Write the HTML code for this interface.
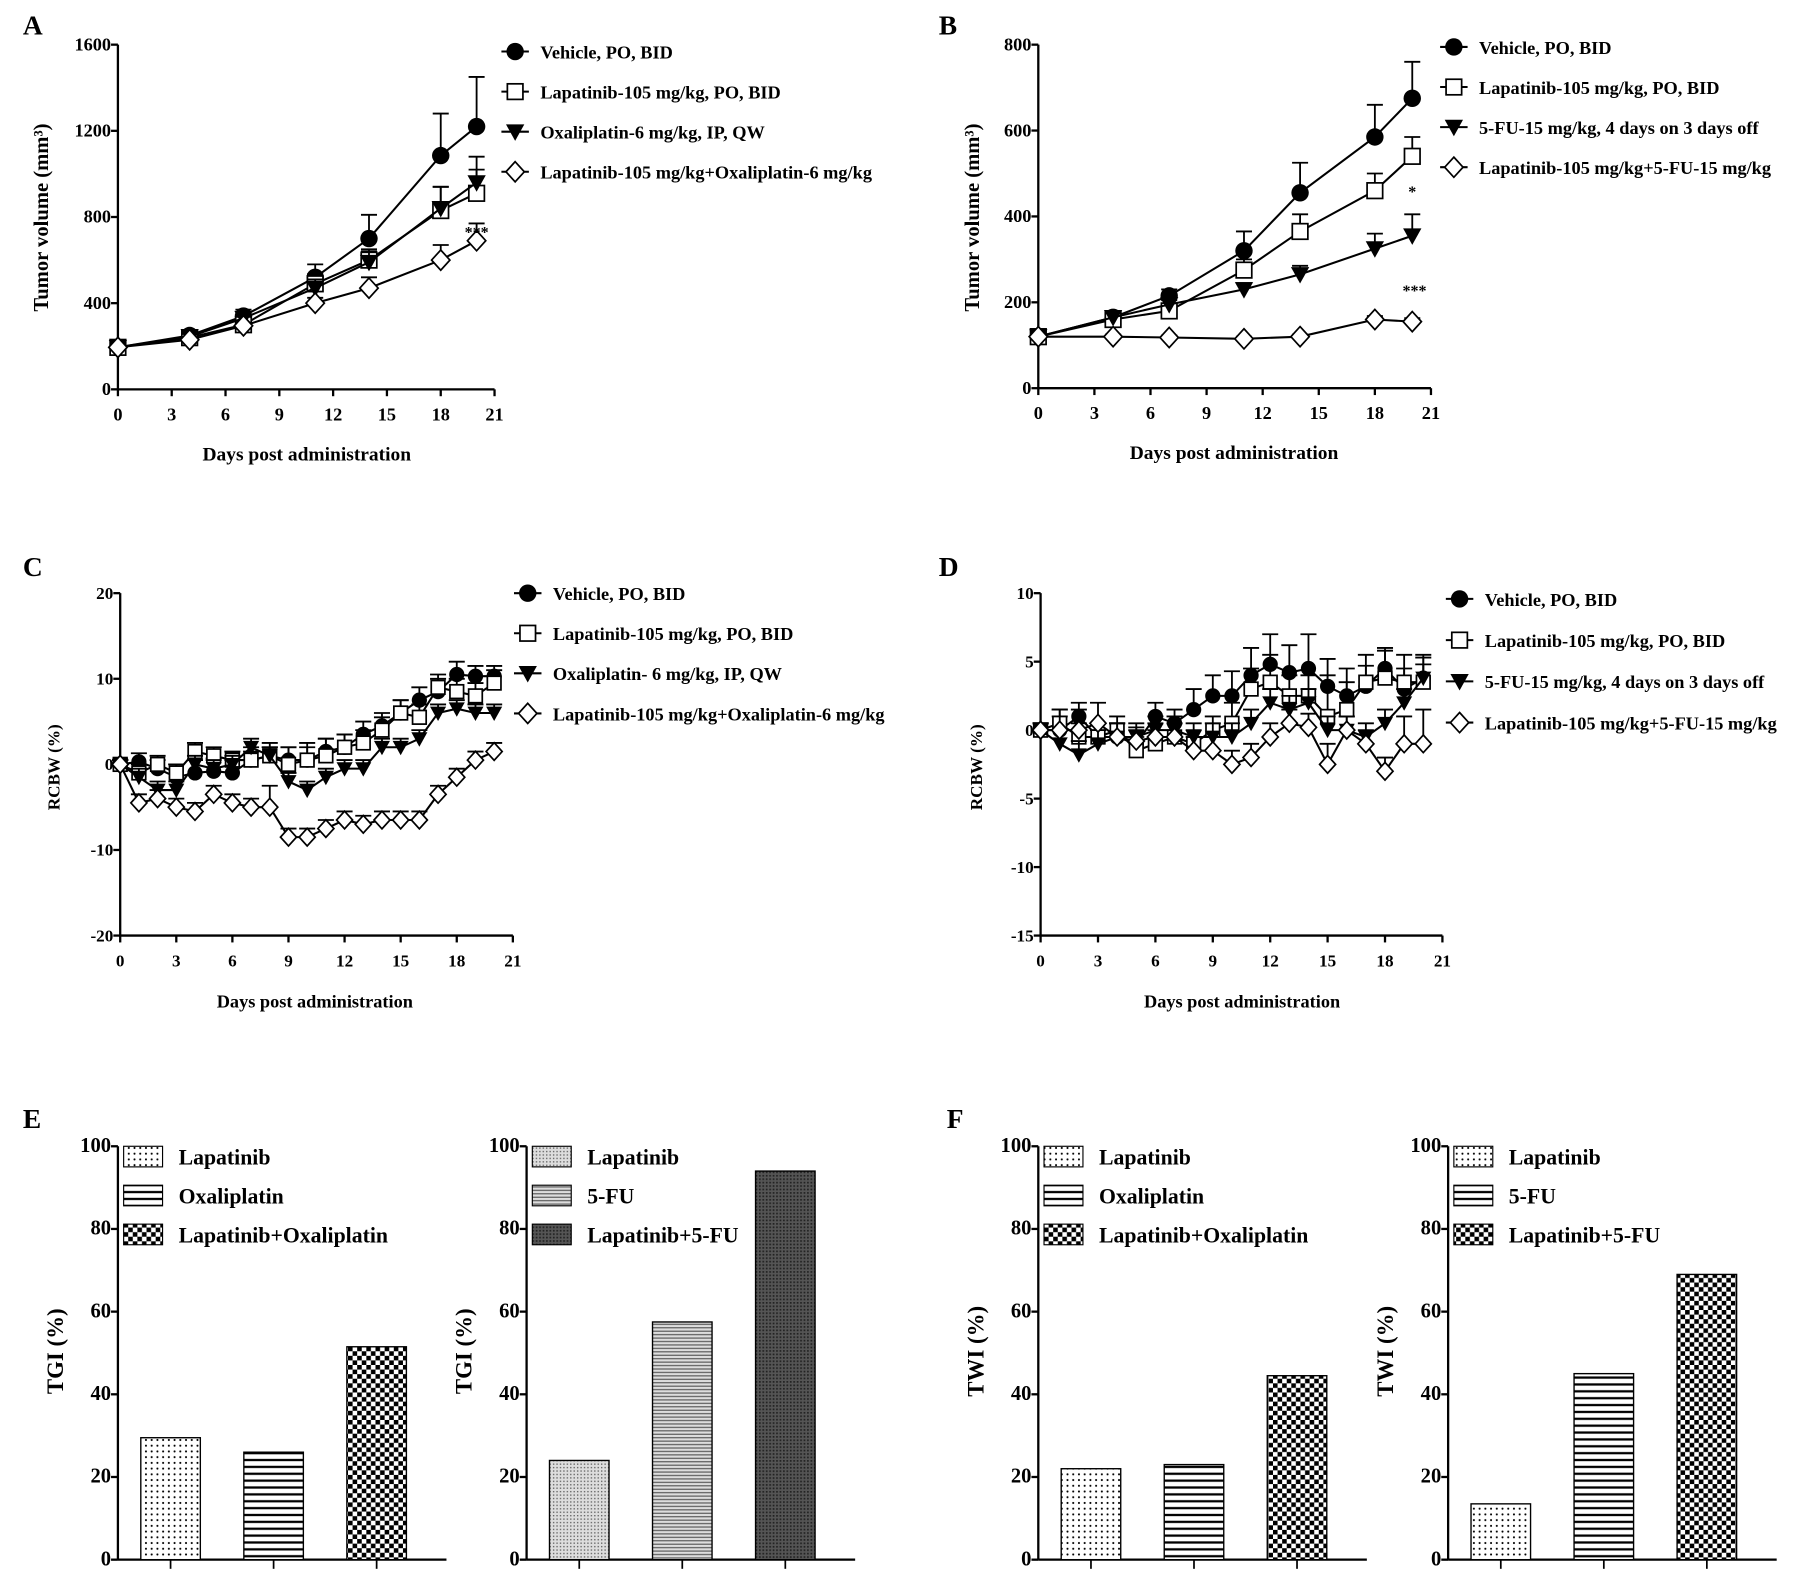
<!DOCTYPE html>
<html><head><meta charset="utf-8"><style>
html,body{margin:0;padding:0;background:#fff}
svg{display:block}
text{font-family:"Liberation Serif",serif;font-weight:bold;fill:#000}
</style></head><body>
<svg id="fig" width="1795" height="1586" viewBox="0 0 1568 1385" preserveAspectRatio="none" xmlns="http://www.w3.org/2000/svg">
<defs>
<pattern id="pDots" width="5" height="5" patternUnits="userSpaceOnUse"><rect width="5" height="5" fill="#fff"/><circle cx="2.5" cy="2.5" r="0.9" fill="#000"/></pattern>
<pattern id="pFineDots" width="3" height="3" patternUnits="userSpaceOnUse"><rect width="3" height="3" fill="#ddd"/><rect width="1.2" height="1.2" fill="#666"/></pattern>
<pattern id="pHLines" width="6" height="6" patternUnits="userSpaceOnUse"><rect width="6" height="6" fill="#fff"/><rect y="2" width="6" height="2" fill="#000"/></pattern>
<pattern id="pFineH" width="4" height="3" patternUnits="userSpaceOnUse"><rect width="4" height="3" fill="#ddd"/><rect y="1" width="4" height="1" fill="#555"/></pattern>
<pattern id="pCheck" width="8" height="8" patternUnits="userSpaceOnUse"><rect width="8" height="8" fill="#fff"/><rect width="4" height="4" fill="#000"/><rect x="4" y="4" width="4" height="4" fill="#000"/></pattern>
<pattern id="pDark" width="3" height="3" patternUnits="userSpaceOnUse"><rect width="3" height="3" fill="#555"/><rect width="1.5" height="1.5" fill="#222"/></pattern>
</defs>
</svg>
<script>
// ---- Panel A data ----
const daysA = [0,4,7,11,14,18,20];
const aVehicle = [195,250,340,520,700,1085,1220];
const aVehicleErr = [10,15,30,60,110,195,230];
const aLap = [195,240,300,490,600,830,910];
const aLapErr = [10,12,20,45,50,110,110];
const aOxa = [195,245,330,470,590,840,960];
const aOxaErr = [10,12,25,40,50,100,120];
const aCombo = [195,230,295,400,470,600,690];
const aComboErr = [8,10,15,25,50,70,80];
const ticksA = [0,400,800,1200,1600];
// ---- Panel B data ----
const daysB = [0,4,7,11,14,18,20];
const bVehicle = [120,165,215,320,455,585,675];
const bVehicleErr = [8,10,15,45,70,75,85];
const bLap = [120,160,180,275,365,460,540];
const bLapErr = [8,8,12,25,40,40,45];
const bFU = [120,165,195,230,265,325,355];
const bFUErr = [8,10,10,15,20,35,50];
const bCombo = [120,120,118,115,120,160,155];
const bComboErr = [5,5,5,5,5,8,8];
const ticksB = [0,200,400,600,800];
// ---- Panel C data ----
const daysCD = [0,1,2,3,4,5,6,7,8,9,10,11,12,13,14,15,16,17,18,19,20];
const cVehicle = [0,0.3,-0.5,-1.5,-1,-0.8,-1,0.5,1,0.5,0.5,1.5,2,3.5,4.5,6,7.5,8.5,10.5,10.3,10.3];
const cVehicleErr = [0.5,1,1,1.5,1.5,1.5,1.5,1.5,1.5,1.5,1.5,1.5,1.5,1.5,1.5,1.5,1.5,1.5,1.5,1.2,1.2];
const cLap = [0,-1,0,-1,1.5,1,0.5,0.5,1,0,0.5,1,2,2.5,4,6,5.5,9,8.5,8,9.5];
const cLapErr = [0.5,1,1,1,1,1,1,1,1,2,2,2,1.5,1.5,1.5,1.5,1.5,1.5,1.5,1.5,1.5];
const cOxa = [0,-1.5,-3,-3,0,-0.5,0,2,1,-2,-3,-1.5,-0.5,-0.5,2,2,3,6,6.5,6,6];
const cOxaErr = [0.5,1,1,1,1,1,1,1,1,1,1,1,1,1,1,1,1,1,1,1,1];
const cCombo = [0,-4.5,-4,-5,-5.5,-3.5,-4.5,-5,-5,-8.5,-8.5,-7.5,-6.5,-7,-6.5,-6.5,-6.5,-3.5,-1.5,0.5,1.5];
const cComboErr = [0.5,1,1,1,1,1,1,1,2.5,1,1,1,1,1,1,1,1,1,1,1,1];
const ticksC = [-20,-10,0,10,20];
// ---- Panel D data ----
const dVehicle = [0,0,1,-0.5,-0.5,-1,1,0.5,1.5,2.5,2.5,4,4.8,4.2,4.5,3.2,2.5,3.2,4.5,3,3.8];
const dVehicleErr = [0.5,1,1,1,1,1,1,1,1.5,1.5,1.8,2,2.2,2,2.5,2,2,1.5,1.5,1.5,1.5];
const dLap = [0,0.5,-0.5,-0.5,0,-1.5,-1,-0.5,-1,0,0.5,3,3.5,2.5,2.5,1,1.5,3.5,3.8,3.5,3.5];
const dLapErr = [0.5,1,1,1,1,1,1,1,1,1,1.5,1.5,2,1.5,1.5,3,2,2,2,2,2];
const dFU = [0,-1,-1.8,-1,-0.5,-0.5,0,0,-0.5,-0.5,-0.5,0.5,2,1.5,2,0,0,-0.5,0.5,2,3.8];
const dFUErr = [0.5,1,1,1,1,1,1,1,1,1,1,1,1,1,1,1,1,1,1,1,1];
const dCombo = [0,0,0,0.5,-0.5,-0.8,-0.5,-0.5,-1.5,-1.5,-2.5,-2,-0.5,0.5,0.2,-2.5,0,-1,-3,-1,-1];
const dComboErr = [0.5,1.5,1.5,1.5,1,1,1,1,1,1,1,1,1,1,1,1.5,1,1,1,2,2.5];
const ticksD = [-15,-10,-5,0,5,10];
const ticksDays = [0,3,6,9,12,15,18,21];
// ---- Bar data ----
const e1Labels = ["Lapatinib","Oxaliplatin","Lapatinib+Oxaliplatin"];
const e1Values = [29.5,26,51.5];
const e2Labels = ["Lapatinib","5-FU","Lapatinib+5-FU"];
const e2Values = [24,57.5,94];
const f1Labels = ["Lapatinib","Oxaliplatin","Lapatinib+Oxaliplatin"];
const f1Values = [22,23,44.5];
const f2Labels = ["Lapatinib","5-FU","Lapatinib+5-FU"];
const f2Values = [13.5,45,69];
const ticksBar = [0,20,40,60,80,100];

const svg = document.getElementById('fig');
const NS = 'http://www.w3.org/2000/svg';
function mk(tag, attrs, parent, txt){
  const e = document.createElementNS(NS, tag);
  for (const k in attrs) e.setAttribute(k, attrs[k]);
  if (txt !== undefined) e.textContent = txt;
  (parent || svg).appendChild(e);
  return e;
}
function scale(d0,d1,r0,r1){ return v => r0 + (v-d0)/(d1-d0)*(r1-r0); }

function marker(g, type, x, y, s){
  let e;
  if (type==='circle') e = mk('circle',{cx:x,cy:y,r:s*0.95,fill:'#000'},g);
  else if (type==='square') e = mk('rect',{x:x-s*0.85,y:y-s*0.85,width:s*1.7,height:s*1.7,fill:'#fff',stroke:'#000','stroke-width':1.5},g);
  else if (type==='tri') e = mk('polygon',{points:`${x-s},${y-s*0.8} ${x+s},${y-s*0.8} ${x},${y+s}`,fill:'#000'},g);
  else e = mk('polygon',{points:`${x},${y-s*1.1} ${x+s},${y} ${x},${y+s*1.1} ${x-s},${y}`,fill:'#fff',stroke:'#000','stroke-width':1.5},g);
  
  
}

function axesXY(g, xs, ys, xTicks, yTicks, x0, y0, xEnd, yTop, fs){
  mk('line',{x1:x0,y1:y0,x2:x0,y2:yTop,stroke:'#000','stroke-width':2},g);
  mk('line',{x1:x0,y1:y0,x2:xEnd,y2:y0,stroke:'#000','stroke-width':2},g);
  yTicks.forEach(t=>{
    const y = ys(t);
    mk('line',{x1:x0-6,y1:y,x2:x0,y2:y,stroke:'#000','stroke-width':2},g);
    const tx = mk('text',{x:x0-6,y:y+5,'text-anchor':'end','font-size':fs},g,String(t));
    
    
  });
  if (xTicks) xTicks.forEach(t=>{
    const x = xs(t);
    mk('line',{x1:x,y1:y0,x2:x,y2:y0+6,stroke:'#000','stroke-width':2},g);
    const tx = mk('text',{x:x,y:y0+27,'text-anchor':'middle','font-size':fs},g,String(t));
    
    
  });
}

function lineSeries(g, name, days, vals, errs, xs, ys, type, ms){
  const sg = mk('g',{},g);
  
  
  mk('polyline',{points:days.map((d,i)=>xs(d)+','+ys(vals[i])).join(' '),fill:'none',stroke:'#000','stroke-width':1.8},sg);
  if (errs) days.forEach((d,i)=>{
    const x=xs(d), y1=ys(vals[i]), y2=ys(vals[i]+errs[i]);
    mk('line',{x1:x,y1:y1,x2:x,y2:y2,stroke:'#000','stroke-width':1.6},sg);
    mk('line',{x1:x-7,y1:y2,x2:x+7,y2:y2,stroke:'#000','stroke-width':1.6},sg);
  });
  days.forEach((d,i)=>marker(sg,type,xs(d),ys(vals[i]),ms));
}

function legend(g, items, x, y, dy, fs){
  items.forEach((it,i)=>{
    const lg = mk('g',{},g);
    
    
    const yy = y + i*dy;
    mk('line',{x1:x-12,y1:yy,x2:x+12,y2:yy,stroke:'#000','stroke-width':1.8},lg);
    marker(lg,it[1],x,yy,8);
    mk('text',{x:x+22,y:yy+6,'font-size':fs},lg,it[0]);
  });
}

function label(txt,x,y,fs,rot,name){
  const a = {x:x,y:y,'font-size':fs,'text-anchor':'middle'};
  if (rot) a.transform = `rotate(-90 ${x} ${y})`;
  const t = mk('text',a,svg,txt);
  
  
  return t;
}

[['A',20,30],['B',820,30],['C',20,503],['D',820,503],['E',20,985],['F',827,985]].forEach(p=>{
  const t = mk('text',{x:p[1],y:p[2],'font-size':24},svg,p[0]);
  
  
});

// ---- Panel A ----
(function(){
  const g = mk('g',{});  
  const xs = scale(0,21,103,432), ys = scale(0,1600,340,39);
  axesXY(g,xs,ys,ticksDays,ticksA,103,340,432,39,16);
  lineSeries(g,'series-vehicle',daysA,aVehicle,aVehicleErr,xs,ys,'circle',8);
  lineSeries(g,'series-lapatinib',daysA,aLap,aLapErr,xs,ys,'square',8);
  lineSeries(g,'series-oxaliplatin',daysA,aOxa,aOxaErr,xs,ys,'tri',8);
  lineSeries(g,'series-combo',daysA,aCombo,aComboErr,xs,ys,'diamond',8);
  mk('text',{x:xs(20),y:ys(800)+18,'text-anchor':'middle','font-size':14},g,'***');
  legend(g,[['Vehicle, PO, BID','circle'],['Lapatinib-105 mg/kg, PO, BID','square'],[' Oxaliplatin-6 mg/kg, IP, QW','tri'],['Lapatinib-105 mg/kg+Oxaliplatin-6 mg/kg','diamond']],450,45,35,16);
  label('Days post administration',268,402,17,false,'x-axis-title');
  label('Tumor volume (mm³)',42,190,18,true,'y-axis-title');
})();

// ---- Panel B ----
(function(){
  const g = mk('g',{});  
  const xs = scale(0,21,907,1250), ys = scale(0,800,339,39);
  axesXY(g,xs,ys,ticksDays,ticksB,907,339,1250,39,16);
  lineSeries(g,'series-vehicle',daysB,bVehicle,bVehicleErr,xs,ys,'circle',8);
  lineSeries(g,'series-lapatinib',daysB,bLap,bLapErr,xs,ys,'square',8);
  lineSeries(g,'series-5fu',daysB,bFU,bFUErr,xs,ys,'tri',8);
  lineSeries(g,'series-combo',daysB,bCombo,bComboErr,xs,ys,'diamond',8);
  mk('text',{x:xs(20),y:ys(445),'text-anchor':'middle','font-size':14},g,'*');
  mk('text',{x:xs(20)+2,y:ys(215),'text-anchor':'middle','font-size':14},g,'***');
  legend(g,[['Vehicle, PO, BID','circle'],['Lapatinib-105 mg/kg, PO, BID','square'],['5-FU-15 mg/kg, 4 days on 3 days off','tri'],['Lapatinib-105 mg/kg+5-FU-15 mg/kg','diamond']],1270,41,35,16);
  label('Days post administration',1078,401,17,false,'x-axis-title');
  label('Tumor volume (mm³)',855,190,18,true,'y-axis-title');
})();

// ---- Panel C ----
(function(){
  const g = mk('g',{});  
  const xs = scale(0,21,105,448), ys = scale(-20,20,817,518);
  axesXY(g,xs,ys,ticksDays,ticksC,105,817,448,518,15);
  lineSeries(g,'series-vehicle',daysCD,cVehicle,cVehicleErr,xs,ys,'circle',7);
  lineSeries(g,'series-lapatinib',daysCD,cLap,cLapErr,xs,ys,'square',7);
  lineSeries(g,'series-oxaliplatin',daysCD,cOxa,cOxaErr,xs,ys,'tri',7);
  lineSeries(g,'series-combo',daysCD,cCombo,cComboErr,xs,ys,'diamond',7);
  legend(g,[['Vehicle, PO, BID','circle'],['Lapatinib-105 mg/kg, PO, BID','square'],['Oxaliplatin- 6 mg/kg, IP, QW','tri'],['Lapatinib-105 mg/kg+Oxaliplatin-6 mg/kg','diamond']],461,518,35,16);
  label('Days post administration',275,880,16,false,'x-axis-title');
  label('RCBW (%)',52,670,15,true,'y-axis-title');
})();

// ---- Panel D ----
(function(){
  const g = mk('g',{});  
  const xs = scale(0,21,909,1260), ys = scale(-15,10,817,518);
  axesXY(g,xs,ys,ticksDays,ticksD,909,817,1260,518,15);
  lineSeries(g,'series-vehicle',daysCD,dVehicle,dVehicleErr,xs,ys,'circle',7);
  lineSeries(g,'series-lapatinib',daysCD,dLap,dLapErr,xs,ys,'square',7);
  lineSeries(g,'series-5fu',daysCD,dFU,dFUErr,xs,ys,'tri',7);
  lineSeries(g,'series-combo',daysCD,dCombo,dComboErr,xs,ys,'diamond',7);
  legend(g,[['Vehicle, PO, BID','circle'],['Lapatinib-105 mg/kg, PO, BID','square'],['5-FU-15 mg/kg, 4 days on 3 days off','tri'],['Lapatinib-105 mg/kg+5-FU-15 mg/kg','diamond']],1275,523,36,16);
  label('Days post administration',1085,880,16,false,'x-axis-title');
  label('RCBW (%)',858,670,15,true,'y-axis-title');
})();

// ---- Bar panels ----
function barPanel(name, labels, values, x0, fills, yTitle, legX){
  const g = mk('g',{});  
  const y0 = 1362, yTop = 1001;
  const ys = scale(0,100,y0,yTop);
  const xEnd = x0 + 287;
  axesXY(g,null,ys,null,ticksBar,x0,y0,xEnd,yTop,18);
  values.forEach((v,i)=>{
    const cx = x0 + 46 + i*90;
    const r = mk('rect',{x:cx-26,y:ys(v),width:52,height:y0-ys(v),fill:fills[i],stroke:'#000','stroke-width':1.2},g);
    
    
    mk('line',{x1:cx,y1:y0,x2:cx,y2:y0+8,stroke:'#000','stroke-width':1.5},g);
  });
  labels.forEach((l,i)=>{
    const lg = mk('g',{},g);
    
    
    const yy = 1010 + i*34;
    mk('rect',{x:legX,y:yy-9,width:34,height:18,fill:fills[i],stroke:'#000','stroke-width':1},lg);
    mk('text',{x:legX+48,y:yy+7,'font-size':19},lg,l);
  });
  const t = mk('text',{x:x0-48,y:1180,'font-size':20,'text-anchor':'middle',transform:`rotate(-90 ${x0-48} 1180)`},g,yTitle);
  
  
}
barPanel('panel-e-left',e1Labels,e1Values,103,['url(#pDots)','url(#pHLines)','url(#pCheck)'],'TGI (%)',108);
barPanel('panel-e-right',e2Labels,e2Values,460,['url(#pFineDots)','url(#pFineH)','url(#pDark)'],'TGI (%)',465);
barPanel('panel-f-left',f1Labels,f1Values,907,['url(#pDots)','url(#pHLines)','url(#pCheck)'],'TWI (%)',912);
barPanel('panel-f-right',f2Labels,f2Values,1265,['url(#pDots)','url(#pHLines)','url(#pCheck)'],'TWI (%)',1270);
</script>
</body></html>
